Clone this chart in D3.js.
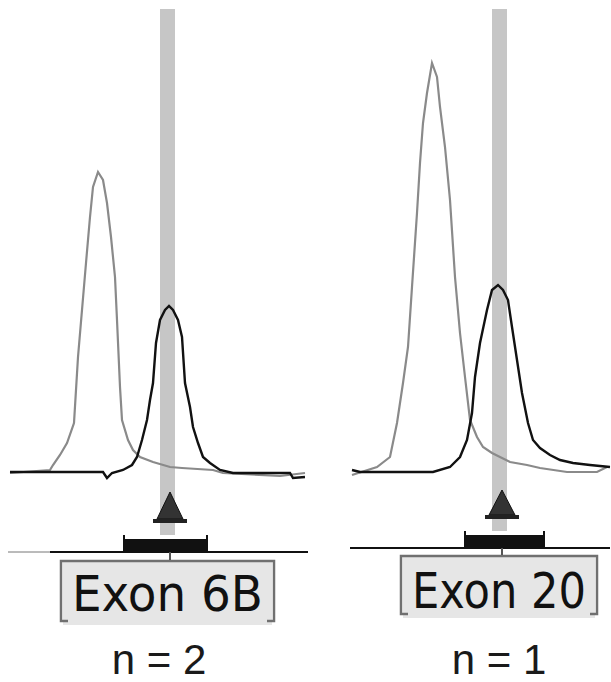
<!DOCTYPE html>
<html>
<head>
<meta charset="utf-8">
<script src="https://cdn.jsdelivr.net/npm/d3@7"></script>
<style>
  body { margin: 0; background: #fff; }
  svg { display: block; }
</style>
</head>
<body>
<svg width="611" height="682"></svg>
<script>
// Exon 6B: reference peak (grey) and sample peak (black)
const exon6bRefSize = [2, 42, 45, 52, 59, 66, 70, 74, 78, 82, 85, 90, 95, 99, 103, 107, 109, 112, 114, 120, 125, 132, 145, 162, 174, 205, 215, 272, 297];
const exon6bRefSignal = [0, 3, 8, 18, 30, 50, 116, 163, 210, 256, 286, 301, 293, 270, 236, 196, 153, 86, 53, 33, 23, 16, 11, 6, 5, 3, 0, -3, 0];
const exon6bSampleSize = [2, 95, 99, 104, 115, 124, 129, 134, 139, 142, 145, 148, 152, 157, 161, 165, 170, 174, 177, 182, 185, 190, 195, 202, 212, 225, 282, 285, 297];
const exon6bSampleSignal = [1, 1, -5, 0, 3, 8, 16, 33, 53, 73, 90, 130, 153, 163, 167, 163, 153, 136, 90, 66, 46, 30, 16, 10, 3, 0, 0, -5, -4];

// Exon 20
const exon20RefSize = [2, 27, 40, 47, 53, 58, 62, 67, 70, 73, 77, 82, 87, 90, 95, 100, 105, 110, 115, 120, 127, 133, 142, 150, 160, 177, 190, 217, 247, 257];
const exon20RefSignal = [-5, 3, 13, 47, 87, 123, 183, 257, 307, 347, 377, 407, 393, 363, 323, 270, 193, 137, 93, 50, 33, 23, 17, 13, 8, 5, 2, -2, -2, 3];
const exon20SampleSize = [2, 10, 83, 100, 110, 117, 122, 125, 130, 137, 142, 148, 153, 158, 162, 167, 172, 178, 183, 190, 200, 210, 223, 240, 260];
const exon20SampleSignal = [0, -2, -2, 3, 13, 30, 57, 93, 127, 160, 180, 185, 180, 170, 143, 110, 77, 47, 30, 22, 15, 10, 7, 5, 3];

// bins (size window), marker and labels
const binWindows = [[152, 167], [142, 157]];
const markerSizes = [162, 152];
const binBars = [[116, 199], [115, 194]];
const exonLabels = ["Exon 6B", "Exon 20"];
const countLabels = ["n = 2", "n = 1"];

const svg = d3.select("svg");

// layout per panel (pixels only, no data)
const panels = [
  { x0: 8, x1: 308, dom: 300, base: 473, top: 9, bandBottom: 535, apex: 492, plate: 519,
    axisY: 552, barTop: 539, tickTop: 535, axisFrom: 50, thinFrom: 8,
    box: [60, 560, 275, 625], textY: 611, textX: [72, 263], nY: 674, nX: 159,
    ref: [exon6bRefSize, exon6bRefSignal], sample: [exon6bSampleSize, exon6bSampleSignal] },
  { x0: 350, x1: 610, dom: 260, base: 470, top: 9, bandBottom: 531, apex: 490, plate: 515,
    axisY: 548, barTop: 535, tickTop: 531, axisFrom: 350, thinFrom: 350,
    box: [400, 555, 598, 618], textY: 608, textX: [412, 586], nY: 674, nX: 499,
    ref: [exon20RefSize, exon20RefSignal], sample: [exon20SampleSize, exon20SampleSignal] }
];

panels.forEach((p, i) => {
  const g = svg.append("g");
  const x = d3.scaleLinear().domain([0, p.dom]).range([p.x0, p.x1]);
  const y = d3.scaleLinear().domain([0, 470]).range([p.base, p.base - 470]);

  // grey bin window
  g.append("rect")
    .attr("x", x(binWindows[i][0]))
    .attr("width", x(binWindows[i][1]) - x(binWindows[i][0]))
    .attr("y", p.top)
    .attr("height", p.bandBottom - p.top)
    .attr("fill", "#c6c6c6");

  const line = d3.line()
    .x(d => x(d[0]))
    .y(d => y(d[1]));

  g.append("path")
    .attr("d", line(d3.zip(p.ref[0], p.ref[1])))
    .attr("fill", "none")
    .attr("stroke", "#8a8a8a")
    .attr("stroke-width", 2.2);

  g.append("path")
    .attr("d", line(d3.zip(p.sample[0], p.sample[1])))
    .attr("fill", "none")
    .attr("stroke", "#111")
    .attr("stroke-width", 2.4);

  // marker triangle
  const cx = x(markerSizes[i]);
  g.append("path")
    .attr("d", `M${cx},${p.apex} L${cx - 13},${p.plate} L${cx + 13},${p.plate} Z`)
    .attr("fill", "#333")
    .attr("stroke", "#111")
    .attr("stroke-width", 1);
  g.append("rect")
    .attr("x", cx - 17).attr("y", p.plate)
    .attr("width", 34).attr("height", 4)
    .attr("fill", "#222");

  // axis line
  if (p.thinFrom < p.axisFrom) {
    g.append("line")
      .attr("x1", p.thinFrom).attr("x2", p.axisFrom)
      .attr("y1", p.axisY).attr("y2", p.axisY)
      .attr("stroke", "#777").attr("stroke-width", 1);
  }
  g.append("line")
    .attr("x1", p.axisFrom).attr("x2", p.x1)
    .attr("y1", p.axisY).attr("y2", p.axisY)
    .attr("stroke", "#111").attr("stroke-width", 2);

  // bin bar
  const b0 = x(binBars[i][0]), b1 = x(binBars[i][1]);
  g.append("rect")
    .attr("x", b0).attr("y", p.barTop)
    .attr("width", b1 - b0).attr("height", p.axisY - p.barTop)
    .attr("fill", "#111");
  [b0, b1].forEach(bx => {
    g.append("line")
      .attr("x1", bx).attr("x2", bx)
      .attr("y1", p.tickTop).attr("y2", p.axisY)
      .attr("stroke", "#111").attr("stroke-width", 2);
  });

  // label box
  const [bx0, by0, bx1, by1] = p.box;
  g.append("rect")
    .attr("x", bx0 + 3).attr("y", by0)
    .attr("width", bx1 - bx0 - 6).attr("height", by1 - by0)
    .attr("fill", "#e6e6e6");
  g.append("path")
    .attr("d", `M${bx0 + 8},${by1 - 4} H${bx0 + 1} V${by0 + 1} H${bx1 - 1} V${by1 - 4} H${bx1 - 8}`)
    .attr("fill", "none")
    .attr("stroke", "#707070")
    .attr("stroke-width", 2.5);
  g.append("line")
    .attr("x1", cx).attr("x2", cx)
    .attr("y1", p.axisY).attr("y2", by0)
    .attr("stroke", "#555").attr("stroke-width", 2);

  g.append("text")
    .attr("x", p.textX[0]).attr("y", p.textY)
    .attr("textLength", p.textX[1] - p.textX[0])
    .attr("lengthAdjust", "spacingAndGlyphs")
    .attr("font-family", "DejaVu Sans, sans-serif")
    .attr("font-size", 49)
    .attr("fill", "#111")
    .text(exonLabels[i]);

  g.append("text")
    .attr("x", p.nX).attr("y", p.nY)
    .attr("text-anchor", "middle")
    .attr("font-family", "Liberation Sans, Arial, sans-serif")
    .attr("font-size", 42)
    .attr("fill", "#1a1a1a")
    .text(countLabels[i]);
});
</script>
</body>
</html>
